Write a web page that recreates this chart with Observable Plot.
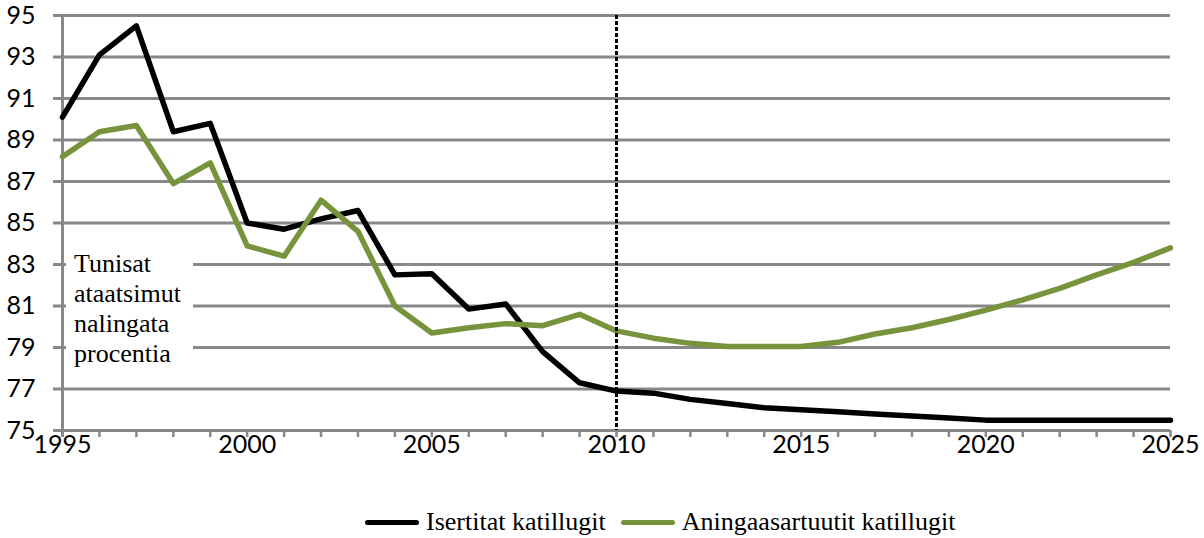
<!DOCTYPE html>
<html>
<head>
<meta charset="utf-8">
<script src="https://cdn.jsdelivr.net/npm/d3@7"></script>
<script src="https://cdn.jsdelivr.net/npm/@observablehq/plot@0.6"></script>
<style>
  body { margin: 0; background: #fff; }
  #wrap { position: relative; width: 1204px; height: 538px; background: #fff; overflow: hidden; }
  #note { position: absolute; left: 66px; top: 249px; width: 127px; height: 120px; background: #fff;
          font-family: "Liberation Serif", "Times New Roman", serif; font-size: 26px; line-height: 30px;
          padding-left: 8px; box-sizing: border-box; color: #000; white-space: nowrap; }
  #legend { position: absolute; left: 365px; top: 506px; height: 32px; display: flex; align-items: center;
            font-family: "Liberation Serif", "Times New Roman", serif; font-size: 26px; color: #000; white-space: nowrap; }
  .sw { display: inline-block; width: 54px; height: 5px; border-radius: 3px; margin-right: 7px; }
  .item { display: flex; align-items: center; margin-right: 15px; }
</style>
</head>
<body>
<div id="wrap"></div>
<script>
const years = [1995, 1996, 1997, 1998, 1999, 2000, 2001, 2002, 2003, 2004, 2005, 2006, 2007, 2008, 2009, 2010,
               2011, 2012, 2013, 2014, 2015, 2016, 2017, 2018, 2019, 2020, 2021, 2022, 2023, 2024, 2025];
const isertitat = [90.1, 93.1, 94.5, 89.4, 89.8, 85.0, 84.7, 85.2, 85.6, 82.5, 82.55, 80.85, 81.1, 78.8, 77.3, 76.9,
                   76.8, 76.5, 76.3, 76.1, 76.0, 75.9, 75.8, 75.7, 75.6, 75.5, 75.5, 75.5, 75.5, 75.5, 75.5];
const aningaasartuutit = [88.2, 89.4, 89.7, 86.9, 87.9, 83.9, 83.4, 86.1, 84.6, 81.0, 79.7, 79.95, 80.15, 80.05, 80.6, 79.8,
                          79.45, 79.2, 79.05, 79.05, 79.05, 79.25, 79.65, 79.95, 80.35, 80.8, 81.3, 81.85, 82.5, 83.1, 83.8];
const seriesNames = ["Isertitat katillugit", "Aningaasartuutit katillugit"];
const seriesColors = ["#000000", "#77933C"];
const xLabels = [1995, 2000, 2005, 2010, 2015, 2020, 2025];
const yTicks = [75, 77, 79, 81, 83, 85, 87, 89, 91, 93, 95];
const noteLines = ["Tunisat", "ataatsimut", "nalingata", "procentia"];
const markerYear = 2010;

const blackData = years.map((y, i) => ({year: y, value: isertitat[i]}));
const greenData = years.map((y, i) => ({year: y, value: aningaasartuutit[i]}));

const grid = "#888888";
const chart = Plot.plot({
  width: 1204,
  height: 480,
  marginLeft: 62,
  marginRight: 34,
  marginTop: 15,
  marginBottom: 50,
  x: {domain: [1995, 2025], label: null},
  y: {domain: [75, 95], label: null},
  style: {fontFamily: '"Liberation Sans Narrow", "Arial Narrow", Lato, sans-serif', fontSize: "25px", color: "#000", background: "#fff", overflow: "visible"},
  marks: [
    Plot.ruleY(yTicks, {stroke: grid, strokeWidth: 3, insetLeft: -9}),
    Plot.ruleX([1995], {stroke: grid, strokeWidth: 3, insetBottom: -7}),
    Plot.axisX({ticks: years, tickSize: 7, stroke: grid, strokeWidth: 2.5, tickFormat: () => ""}),
    Plot.axisX({ticks: xLabels, tickSize: 0, tickPadding: 5, tickFormat: d => String(d), fontSize: 25}),
    Plot.axisY({ticks: yTicks, tickSize: 0, tickPadding: 27, tickFormat: d => String(d), fontSize: 25}),
    Plot.line(blackData, {x: "year", y: "value", stroke: seriesColors[0], strokeWidth: 5.5}),
    Plot.line(greenData, {x: "year", y: "value", stroke: seriesColors[1], strokeWidth: 5.5}),
    Plot.ruleX([markerYear], {stroke: "#000", strokeWidth: 3, strokeDasharray: "4,2"})
  ]
});
const wrap = document.getElementById("wrap");
wrap.appendChild(chart);

const note = document.createElement("div");
note.id = "note";
note.innerHTML = noteLines.join("<br>");
wrap.appendChild(note);

const legend = document.createElement("div");
legend.id = "legend";
seriesNames.forEach((name, i) => {
  const item = document.createElement("span");
  item.className = "item";
  const sw = document.createElement("span");
  sw.className = "sw";
  sw.style.background = seriesColors[i];
  item.appendChild(sw);
  item.appendChild(document.createTextNode(name));
  legend.appendChild(item);
});
wrap.appendChild(legend);
</script>
</body>
</html>
